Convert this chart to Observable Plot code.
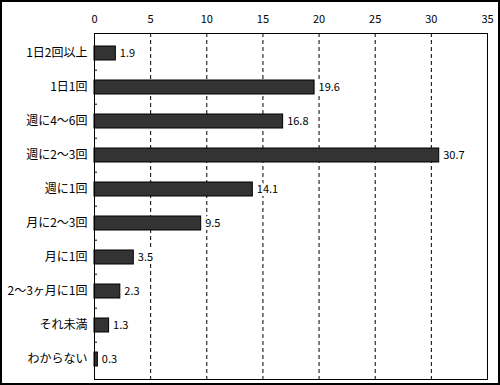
<!DOCTYPE html>
<html>
<head>
<meta charset="utf-8">
<script src="https://cdn.jsdelivr.net/npm/d3@7"></script>
<script src="https://cdn.jsdelivr.net/npm/@observablehq/plot@0.6"></script>
<style>
  html, body { margin: 0; padding: 0; background: #fff; }
  #wrap { position: relative; width: 500px; height: 385px; }
  #border { position: absolute; left: 0; top: 0; width: 500px; height: 385px; box-sizing: border-box; border: 2px solid #000; pointer-events: none; }
  svg { display: block; }
</style>
</head>
<body>
<div id="wrap"><div id="chart"></div><div id="border"></div></div>
<script>
const categories = ["1日2回以上", "1日1回", "週に4～6回", "週に2～3回", "週に1回", "月に2～3回", "月に1回", "2～3ヶ月に1回", "それ未満", "わからない"];
const values = [1.9, 19.6, 16.8, 30.7, 14.1, 9.5, 3.5, 2.3, 1.3, 0.3];
const xTicks = [0, 5, 10, 15, 20, 25, 30, 35];
const gridTicks = [5, 10, 15, 20, 25, 30];

const data = categories.map((c, i) => ({category: c, value: values[i]}));

const W = 500, H = 385, mt = 33, mb = 6, ml = 94, mr = 13;
const step = (H - mt - mb) / categories.length;

const chart = Plot.plot({
  width: W,
  height: H,
  marginTop: mt,
  marginBottom: mb,
  marginLeft: ml,
  marginRight: mr,
  style: {fontFamily: "'Noto Sans CJK JP', sans-serif", fontSize: "11px", color: "#000", background: "#fff"},
  x: {domain: [0, 35], ticks: xTicks, axis: "top", tickSize: 0, tickPadding: 11, label: null},
  y: {domain: categories, paddingInner: 0.6, paddingOuter: 0.3, tickSize: 0, tickPadding: 7, label: null},
  marks: [
    Plot.ruleX(gridTicks, {stroke: "#000", strokeWidth: 1, strokeDasharray: "4,3"}),
    Plot.barX(data, {x: "value", y: "category", fill: "#333", stroke: "#000", strokeWidth: 1}),
    Plot.text(data, {x: "value", y: "category", text: d => d.value.toFixed(1), textAnchor: "start", dx: 4, fontSize: 11, fill: "#000", stroke: "#fff", strokeWidth: 6, paintOrder: "stroke"}),
    Plot.ruleY(categories.slice(1), {y: d => d, x1: 0, x2: 0.27, dy: -step / 2, stroke: "#000"}),
    Plot.frame({stroke: "#000", strokeWidth: 1}),
    Plot.axisY({tickSize: 0, tickPadding: 7, fontSize: 12})
  ]
});
document.getElementById("chart").appendChild(chart);
</script>
</body>
</html>
